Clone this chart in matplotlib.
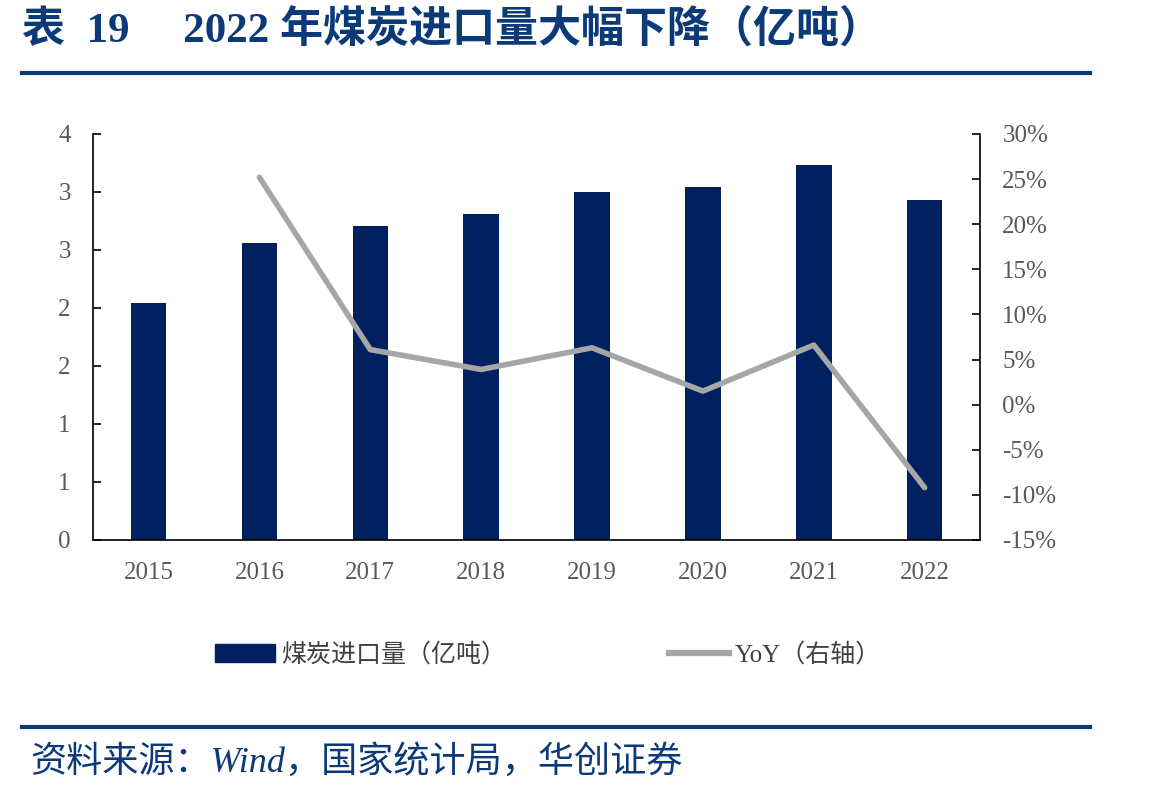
import numpy as np
import matplotlib.pyplot as plt
from matplotlib.lines import Line2D
from matplotlib.patches import Patch

plt.rcParams['font.family'] = ['Liberation Serif', 'Noto Sans CJK SC', 'DejaVu Sans']
plt.rcParams['axes.unicode_minus'] = False

# 数据
years = ['2015', '2016', '2017', '2018', '2019', '2020', '2021', '2022']
imports = [2.04, 2.56, 2.71, 2.81, 3.00, 3.04, 3.23, 2.93]          # 亿吨
yoy = [np.nan, 25.2, 6.1, 3.9, 6.3, 1.5, 6.6, -9.2]                 # %
left_ticks = [0, 0.5, 1, 1.5, 2, 2.5, 3, 3.5]
left_labels = ['0', '1', '1', '2', '2', '3', '3', '4']
right_ticks = [-15, -10, -5, 0, 5, 10, 15, 20, 25, 30]

navy = '#002060'
grey_line = '#A6A6A6'
blue = '#0C3A78'
tick_col = '#595959'

fig = plt.figure(figsize=(11.49, 7.95), dpi=100)
ax = fig.add_axes([0.081, 0.3208, 0.772, 0.5107])

x = np.arange(len(years))
ax.bar(x, imports, width=0.32, color=navy, zorder=2)
ax.set_xlim(-0.5, len(years) - 0.5)
ax.set_ylim(0, 3.5)
ax.set_yticks(left_ticks)
ax.set_yticklabels(left_labels)
ax.set_xticks(x)
ax.set_xticklabels(years)
ax.tick_params(axis='x', length=0, pad=16, labelsize=18, labelcolor=tick_col)
ax.tick_params(axis='y', direction='in', length=6, width=1.2, pad=16,
               labelsize=18, labelcolor=tick_col)
ax.spines['top'].set_visible(False)
ax.spines['right'].set_visible(False)
ax.spines['left'].set_linewidth(1.2)
ax.spines['bottom'].set_linewidth(1.2)

ax2 = ax.twinx()
ax2.plot(x, yoy, color=grey_line, linewidth=4, solid_capstyle='round', zorder=3)
ax2.set_ylim(-15, 30)
ax2.set_yticks(right_ticks)
ax2.set_yticklabels([f'{t}%' for t in right_ticks])
ax2.tick_params(axis='y', direction='in', length=6, width=1.2, pad=16,
                labelsize=18, labelcolor=tick_col)
for s in ['top', 'left', 'bottom']:
    ax2.spines[s].set_visible(False)
ax2.spines['right'].set_linewidth(1.2)

# 图例
handles = [Patch(facecolor=navy, edgecolor=navy),
           Line2D([0], [0], color=grey_line, linewidth=4.5)]
labels = ['煤炭进口量（亿吨）', 'YoY（右轴）']
fig.legend(handles, labels, loc='center', bbox_to_anchor=(0.477, 0.176), ncol=2,
           frameon=False, fontsize=18, handlelength=2.4, handletextpad=0.25,
           columnspacing=6.5, labelcolor='#404040')

# 标题和分隔线
fig.text(0.019, 0.962, '表  19     2022 年煤炭进口量大幅下降（亿吨）', fontsize=31,
         fontweight='bold', color=blue, va='center', ha='left')
fig.add_artist(Line2D([0.019, 0.949], [0.908, 0.908], color=blue, linewidth=3))
fig.add_artist(Line2D([0.019, 0.949], [0.086, 0.086], color=blue, linewidth=3))
fig.text(0.026, 0.041, '资料来源：Wind，国家统计局，华创证券', fontsize=26,
         style='italic', color=blue, va='center', ha='left')

plt.savefig('out.png', dpi=100)
plt.close()
